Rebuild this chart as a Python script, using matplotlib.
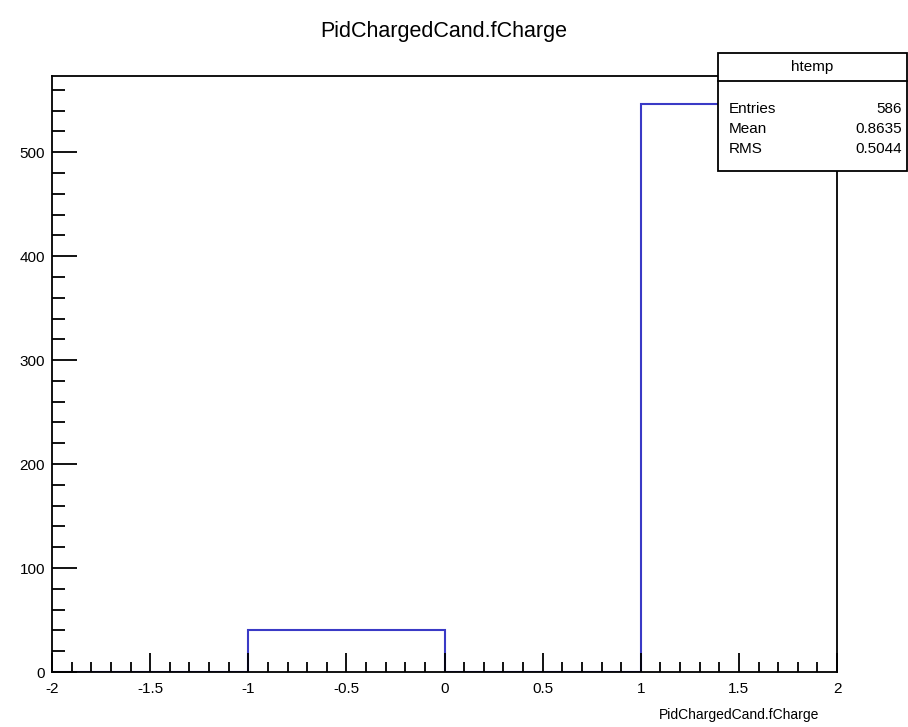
import numpy as np
import matplotlib
matplotlib.use("Agg")
import matplotlib.pyplot as plt
from matplotlib.patches import Rectangle
from matplotlib.ticker import MultipleLocator

plt.rcParams['font.family'] = ['Liberation Sans', 'DejaVu Sans']

# histogram contents (4 bins from -2 to 2)
bin_edges = [-2, -1, 0, 1, 2]
bin_counts = [0, 40, 0, 546]
stat_names = ["Entries", "Mean", "RMS"]
stat_values = ["586", "0.8635", "0.5044"]
hist_name = "htemp"
var_name = "PidChargedCand.fCharge"

W, H = 908, 727
fig = plt.figure(figsize=(W / 100, H / 100), dpi=100)
# axes frame in pixel terms: left 52, right 837, top 76, bottom 672
ax = fig.add_axes([52 / W, 1 - 672 / H, (837 - 52) / W, (672 - 76) / H])

ax.stairs(bin_counts, bin_edges, color="#3a3ac6", linewidth=1.5, baseline=None)

ax.set_xlim(-2, 2)
ax.set_ylim(0, max(bin_counts) * 1.05)

ax.xaxis.set_major_locator(MultipleLocator(0.5))
ax.xaxis.set_minor_locator(MultipleLocator(0.1))
ax.yaxis.set_major_locator(MultipleLocator(100))
ax.yaxis.set_minor_locator(MultipleLocator(20))
ax.tick_params(axis="both", which="both", direction="in", top=False, right=False,
               width=1.3, labelsize=11, color="black")
ax.tick_params(axis="x", which="major", length=14, pad=7)
ax.tick_params(axis="x", which="minor", length=7)
ax.tick_params(axis="y", which="major", length=18, pad=5)
ax.tick_params(axis="y", which="minor", length=9)

ax.xaxis.set_major_formatter(lambda v, p: "{:g}".format(v))
for s in ax.spines.values():
    s.set_linewidth(1.3)

fig.text(444 / W, 1 - 31 / H, var_name, ha="center", va="center", fontsize=15.5)
fig.text(819 / W, 1 - 715 / H, var_name, ha="right", va="center", fontsize=10)

# stats box
bx0, bx1, by0, by1, byh = 718, 907, 53, 171, 81
fig.add_artist(Rectangle((bx0 / W, 1 - by1 / H), (bx1 - bx0) / W, (by1 - by0) / H,
                         transform=fig.transFigure, facecolor="white",
                         edgecolor="black", linewidth=1.3, zorder=5))
fig.add_artist(plt.Line2D([bx0 / W, bx1 / W], [1 - byh / H, 1 - byh / H],
                          transform=fig.transFigure, color="black", linewidth=1.3, zorder=6))
fig.text((bx0 + bx1) / 2 / W, 1 - 67 / H, hist_name, ha="center", va="center",
         fontsize=11, zorder=7)
for i, (n, v) in enumerate(zip(stat_names, stat_values)):
    y = 1 - (109 + 20 * i) / H
    fig.text(729 / W, y, n, ha="left", va="center", fontsize=11, zorder=7)
    fig.text(902 / W, y, v, ha="right", va="center", fontsize=11, zorder=7)

fig.savefig("out.png", dpi=100)
